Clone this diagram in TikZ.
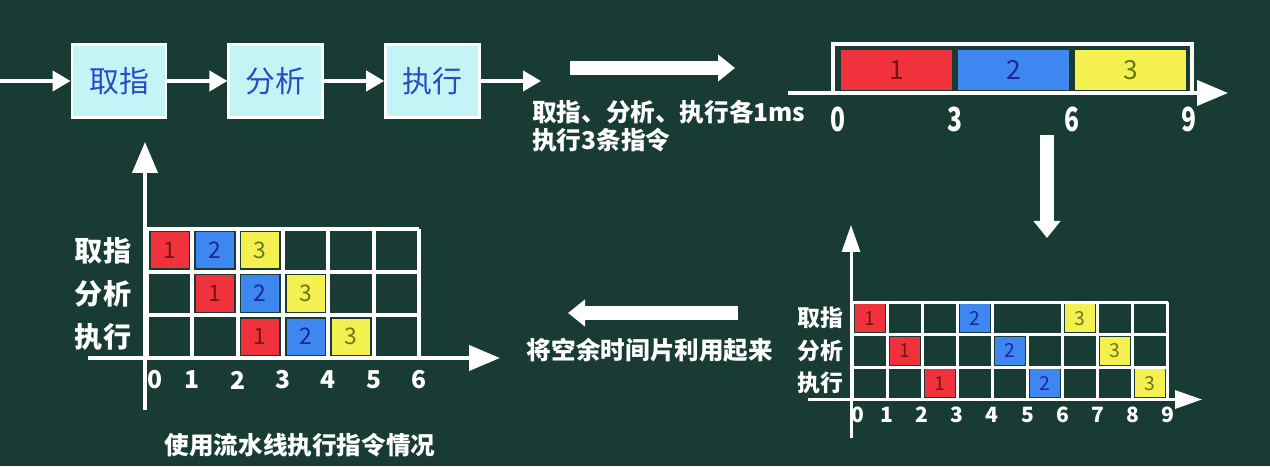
\documentclass[tikz,border=0pt]{standalone}
\usepackage{fontspec}
\setmainfont{Noto Sans CJK SC}
\usetikzlibrary{positioning, arrows.meta}

\definecolor{board}{RGB}{24,60,52}
\definecolor{stagefill}{RGB}{196,244,246}
\definecolor{stageblue}{RGB}{40,76,196}
\definecolor{slotred}{RGB}{240,50,60}
\definecolor{slotblue}{RGB}{62,134,240}
\definecolor{slotyellow}{RGB}{244,240,80}
\definecolor{numred}{RGB}{120,20,20}
\definecolor{numblue}{RGB}{25,40,150}
\definecolor{numyellow}{RGB}{105,120,20}

\begin{document}
\begin{tikzpicture}[
    % GLOBAL CFG
    font=\bfseries,
    % Styles
    stage/.style={% pipeline stage boxes
        rectangle,
        draw=white,
        line width=1.6pt,
        fill=stagefill,
        minimum width=1.88cm,
        minimum height=1.46cm,
        text=stageblue,
        font=\fontsize{17}{17}\selectfont,
        },
    flow/.style={% thin arrows between stages
        draw=white,
        line width=0.08cm,
        -{Triangle[width=0.4cm,length=0.36cm]},
        },
    bigarrow/.style={% fat white arrows
        draw=white,
        line width=0.28cm,
        -{Triangle[width=0.52cm,length=0.34cm]},
        },
    axis/.style={% time and stage axes
        draw=white,
        line width=0.08cm,
        -{Triangle[width=0.5cm,length=0.62cm]},
        },
    smallaxis/.style={
        draw=white,
        line width=0.06cm,
        -{Triangle[width=0.36cm,length=0.54cm]},
        },
    note/.style={% white captions
        text=white,
        font=\fontsize{14}{14}\bfseries\selectfont,
        },
    tall/.style={% narrow tall digits
        text=white,
        font=\fontsize{14}{14}\bfseries\selectfont,
        yscale=1.35,
        transform shape,
        },
    slot/.style={% coloured time slots
        rectangle,
        inner sep=0pt,
        font=\fontsize{13}{13}\mdseries\selectfont,
        },
    red/.style={fill=slotred, text=numred},
    blue/.style={fill=slotblue, text=numblue},
    yellow/.style={fill=slotyellow, text=numyellow},
    ]

    % Background
    \fill[board] (0,0) rectangle (25.4,9.32);
    \useasboundingbox (0,0) rectangle (25.4,9.32);

    % Draw the pipeline
    \coordinate (in) at (0,7.70);
    \node [stage] (fetch) at (2.38,7.70) {取指};
    \node [stage, right=1.2cm of fetch] (decode) {分析};
    \node [stage, right=1.2cm of decode] (exec) {执行};
    \coordinate[right=1.2cm of exec] (out);

    \draw [flow] (in) -- (fetch);
    \draw [flow] (fetch) -- (decode);
    \draw [flow] (decode) -- (exec);
    \draw [flow] (exec) -- (out);

    % Notes
    \node [note, anchor=west, inner sep=0pt] (note1) at (10.64,7.08) {取指、分析、执行各1ms};
    \node [note, anchor=west, inner sep=0pt] (note2) at (10.64,6.52) {执行3条指令};

    % Big arrows
    \coordinate (toR1) at (11.4,7.96);
    \coordinate (toR2) at (14.7,7.96);
    \draw [bigarrow] (toR1) -- (toR2);
    \coordinate (down1) at (20.94,6.62);
    \coordinate (down2) at (20.94,4.56);
    \draw [bigarrow] (down1) -- (down2);
    \coordinate (toL1) at (14.76,3.06);
    \coordinate (toL2) at (11.36,3.06);
    \draw [bigarrow] (toL1) -- (toL2);
    \node [note] (reuse) at (13.0,2.32) {将空余时间片利用起来};

    % Serial execution bar
    \node [rectangle, draw=white, line width=0.08cm, minimum width=7.18cm,
        minimum height=0.98cm] (serial) at (20.25,7.95) {};
    \node [slot, red, minimum width=2.22cm, minimum height=0.8cm,
        font=\fontsize{15}{15}\mdseries\selectfont] (s1) at (17.93,7.92) {1};
    \node [slot, blue, minimum width=2.22cm, minimum height=0.8cm,
        font=\fontsize{15}{15}\mdseries\selectfont] (s2) at (20.27,7.92) {2};
    \node [slot, yellow, minimum width=2.22cm, minimum height=0.8cm,
        font=\fontsize{15}{15}\mdseries\selectfont] (s3) at (22.61,7.92) {3};
    \coordinate (sx1) at (15.76,7.46);
    \coordinate (sx2) at (24.56,7.46);
    \draw [axis] (sx1) -- (sx2);
    \foreach \k/\t in {0/0,1/3,2/6,3/9}
        \node [tall] (st\k) at (16.76+\k*2.34,6.94) {\t};

    % Pipelined chart (left)
    \newcommand{\lw}{0.906}
    \newcommand{\lh}{0.86}
    \begin{scope}[shift={(2.94,2.16)}, xscale=\lw, yscale=\lh]
        \draw [white, line width=0.08cm] (0,0) grid (6,3);
    \end{scope}
    \coordinate (ly1) at (2.90,1.12);
    \coordinate (ly2) at (2.90,6.48);
    \draw [axis] (ly1) -- (ly2);
    \coordinate (lx1) at (1.76,2.16);
    \coordinate (lx2) at (10.0,2.16);
    \draw [axis] (lx1) -- (lx2);
    \foreach \c/\r/\col/\n in {0/2/red/1, 1/2/blue/2, 2/2/yellow/3,
                               1/1/red/1, 2/1/blue/2, 3/1/yellow/3,
                               2/0/red/1, 3/0/blue/2, 4/0/yellow/3}
        \node [slot, \col, minimum width=0.76cm, minimum height=0.72cm]
            (L\c-\r) at (2.94+\c*\lw+0.5*\lw, 2.16+\r*\lh+0.5*\lh) {\n};
    \foreach \r/\t in {2/取指, 1/分析, 0/执行}
        \node [text=white, font=\fontsize{16}{16}\bfseries\selectfont]
            (Lrow\r) at (2.06, 2.16+\r*\lh+0.5*\lh) {\t};
    \node [text=white, font=\fontsize{14}{14}\bfseries\selectfont] (Lt0) at (3.10,1.72) {0};
    \foreach \k in {1,...,6}
        \node [text=white, font=\fontsize{14}{14}\bfseries\selectfont]
            (Lt\k) at (2.94+\k*\lw,1.72) {\k};
    \node [note] (caption) at (6.0,0.42) {使用流水线执行指令情况};

    % Sequential chart (right)
    \newcommand{\rw}{0.702}
    \newcommand{\rh}{0.65}
    \begin{scope}[shift={(17.04,1.33)}, xscale=\rw, yscale=\rh]
        \draw [white, line width=0.06cm] (0,0) grid (9,2);
        \draw [white, line width=0.06cm] (0,3) -- (9,3);
        \foreach \k in {0,1,2,3,4,6,7,8,9}
            \draw [white, line width=0.06cm] (\k,2) -- (\k,3);
    \end{scope}
    \coordinate (ry1) at (17.02,0.56);
    \coordinate (ry2) at (17.02,4.82);
    \draw [smallaxis] (ry1) -- (ry2);
    \coordinate (rx1) at (16.16,1.33);
    \coordinate (rx2) at (24.04,1.33);
    \draw [smallaxis] (rx1) -- (rx2);
    \foreach \c/\r/\col/\n in {0/2/red/1, 3/2/blue/2, 6/2/yellow/3,
                               1/1/red/1, 4/1/blue/2, 7/1/yellow/3,
                               2/0/red/1, 5/0/blue/2, 8/0/yellow/3}
        \node [slot, \col, minimum width=0.6cm, minimum height=0.56cm,
            font=\fontsize{11}{11}\mdseries\selectfont]
            (R\c-\r) at (17.04+\c*\rw+0.5*\rw, 1.33+\r*\rh+0.5*\rh) {\n};
    \foreach \r/\t in {2/取指, 1/分析, 0/执行}
        \node [text=white, font=\fontsize{13}{13}\bfseries\selectfont]
            (Rrow\r) at (16.40, 1.33+\r*\rh+0.5*\rh) {\t};
    \node [text=white, font=\fontsize{12}{12}\bfseries\selectfont] (Rt0) at (17.16,1.02) {0};
    \foreach \k in {1,...,9}
        \node [text=white, font=\fontsize{12}{12}\bfseries\selectfont]
            (Rt\k) at (17.04+\k*\rw,1.02) {\k};

\end{tikzpicture}
\end{document}
